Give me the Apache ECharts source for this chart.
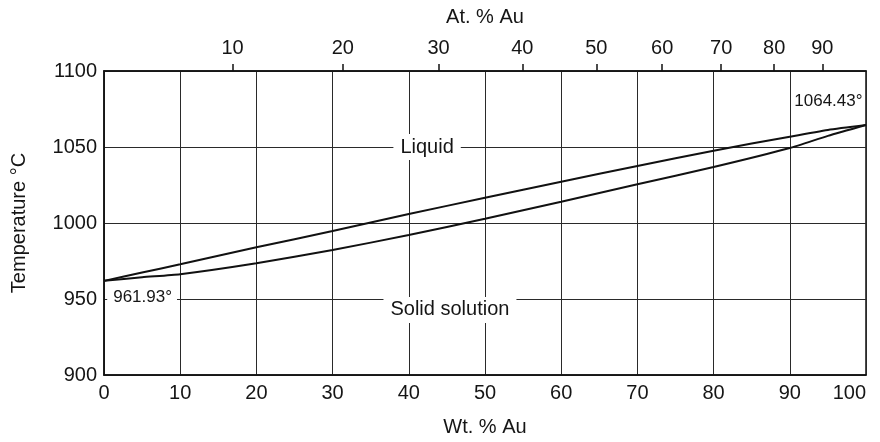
<!DOCTYPE html>
<html>
<head>
<meta charset="utf-8">
<title>Ag–Au phase diagram</title>
<script src="https://cdn.jsdelivr.net/npm/echarts@6/dist/echarts.min.js"></script>
<style>
  html, body { margin: 0; padding: 0; background: #fff; }
  #chart { width: 880px; height: 442px; }
</style>
</head>
<body>
<div id="chart"></div>
<script>
// Composition in weight percent gold
const wtPct = [0, 5, 10, 20, 30, 40, 50, 60, 70, 80, 90, 95, 100];
// Liquidus and solidus temperatures (°C) at each composition
const liquidus = [961.93, 967.4, 972.8, 984.0, 994.7, 1005.9, 1016.6, 1027.2, 1037.5, 1047.6, 1056.8, 1061.2, 1064.43];
const solidus  = [961.93, 964.3, 966.3, 973.5, 982.2, 992.1, 1002.8, 1014.0, 1025.5, 1036.8, 1049.3, 1057.3, 1064.43];

// Axis ticks
const wtTicks = [0, 10, 20, 30, 40, 50, 60, 70, 80, 90, 100];
const tempTicks = [900, 950, 1000, 1050, 1100];
const atTicks = [10, 20, 30, 40, 50, 60, 70, 80, 90];

// Atomic masses used to convert between atomic and weight percent
const M_AU = 196.97, M_AG = 107.87;
const atToWt = a => 100 * a * M_AU / (a * M_AU + (100 - a) * M_AG);
const wtToAt = w => 100 * (w / M_AU) / (w / M_AU + (100 - w) / M_AG);

// Text annotations placed in data space: [wt %, °C, text]
const notes = [
  [42.4, 1050, 'Liquid'],
  [45.4, 942.8, 'Solid solution'],
  [5.0, 951.3, '961.93°'],
  [95.0, 1080.3, '1064.43°']
];

const FONT = '"Liberation Sans", Arial, Helvetica, sans-serif';
const INK = '#151515';

const chart = echarts.init(document.getElementById('chart'), null, { renderer: 'canvas' });

const pairs = vals => wtPct.map((w, i) => [w, vals[i]]);

// Label style per annotation: the two melting points use a smaller font
const noteLabel = i => (i < 2
  ? { fontSize: 20, padding: [3, 7, 3, 7], backgroundColor: '#fff' }
  : { fontSize: 17, padding: [2, 5, 2, 6], backgroundColor: i === 3 ? 'transparent' : '#fff' });

chart.setOption({
  animation: false,
  backgroundColor: '#fff',
  textStyle: { fontFamily: FONT, color: INK },
  grid: {
    left: 104, right: 14, top: 71, bottom: 67,
    outerBoundsMode: 'none', containLabel: false,
    show: true, borderColor: '#111', borderWidth: 1.5, backgroundColor: 'transparent'
  },
  xAxis: [
    {
      type: 'value', position: 'bottom',
      min: wtTicks[0], max: wtTicks[wtTicks.length - 1], interval: 10,
      name: 'Wt. % Au', nameLocation: 'middle', nameGap: 42,
      nameTextStyle: { fontFamily: FONT, fontSize: 20, color: INK },
      axisLine: { show: true, lineStyle: { color: '#111', width: 1.5 } },
      axisTick: { show: false },
      axisLabel: {
        margin: 8, fontFamily: FONT, fontSize: 20, color: INK,
        alignMaxLabel: 'right',
        formatter: v => String(v)
      },
      splitLine: { show: true, lineStyle: { color: '#2a2a2a', width: 1 } }
    },
    {
      type: 'value', position: 'top',
      min: 0, max: 100,
      name: 'At. % Au', nameLocation: 'middle', nameGap: 44,
      nameTextStyle: { fontFamily: FONT, fontSize: 20, color: INK },
      axisLine: { show: true, lineStyle: { color: '#111', width: 1.5 } },
      axisTick: {
        show: true, length: 7, inside: false,
        customValues: atTicks.map(atToWt),
        lineStyle: { color: '#111', width: 1.5 }
      },
      axisLabel: {
        margin: 13, fontFamily: FONT, fontSize: 20, color: INK,
        customValues: atTicks.map(atToWt),
        formatter: v => String(Math.round(wtToAt(v)))
      },
      splitLine: { show: false }
    }
  ],
  yAxis: {
    type: 'value',
    min: tempTicks[0], max: tempTicks[tempTicks.length - 1], interval: 50,
    name: 'Temperature °C', nameLocation: 'middle', nameGap: 75,
    nameTextStyle: { fontFamily: FONT, fontSize: 20, color: INK },
    axisLine: { show: true, lineStyle: { color: '#111', width: 1.5 } },
    axisTick: { show: false },
    axisLabel: { margin: 7, fontFamily: FONT, fontSize: 20, color: INK, formatter: v => String(v) },
    splitLine: { show: true, lineStyle: { color: '#2a2a2a', width: 1 } }
  },
  series: [
    {
      name: 'Liquidus', type: 'line', xAxisIndex: 0,
      data: pairs(liquidus), showSymbol: false, smooth: 0.2,
      lineStyle: { color: '#111', width: 2 }, z: 5
    },
    {
      name: 'Solidus', type: 'line', xAxisIndex: 0,
      data: pairs(solidus), showSymbol: false, smooth: 0.2,
      lineStyle: { color: '#111', width: 2 }, z: 5
    },
    {
      name: 'Labels', type: 'scatter', xAxisIndex: 0,
      symbolSize: 0, silent: true, z: 10,
      itemStyle: { opacity: 1, color: '#111' },
      data: notes.map((n, i) => ({ value: [n[0], n[1]], text: n[2], label: noteLabel(i) })),
      label: {
        show: true, position: 'inside', opacity: 1,
        formatter: p => p.data.text,
        fontFamily: FONT, color: INK, textBorderWidth: 0
      },
      emphasis: { disabled: true },
      labelLayout: { hideOverlap: false }
    }
  ]
});
</script>
</body>
</html>
